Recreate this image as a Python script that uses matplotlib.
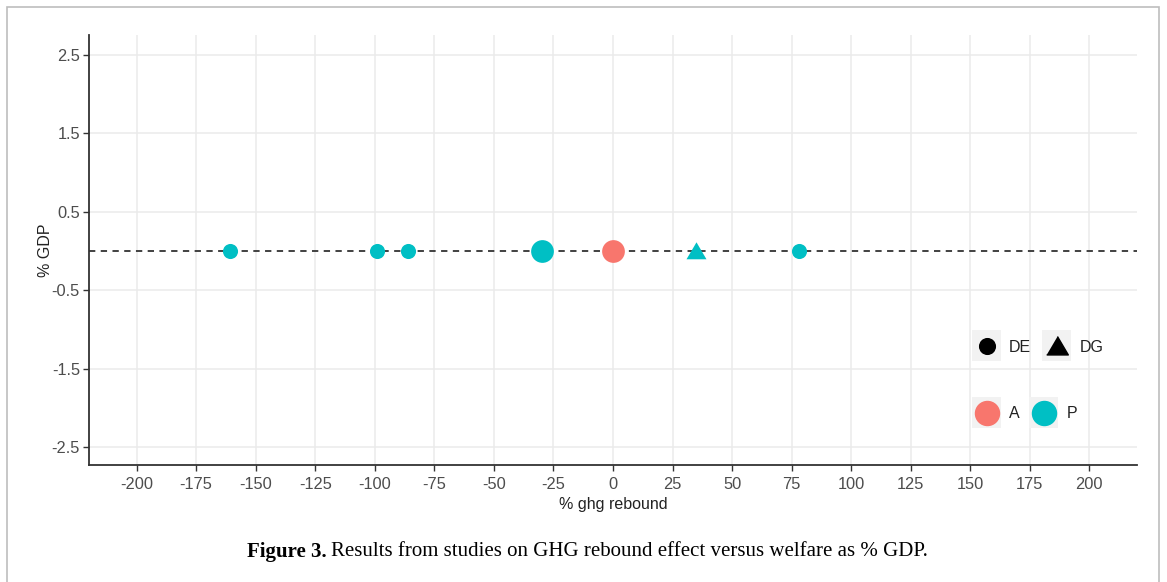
import matplotlib.pyplot as plt
from matplotlib.patches import Rectangle

plt.rcParams['font.family'] = ['Liberation Sans', 'DejaVu Sans']
plt.rcParams['axes.unicode_minus'] = False

# study results
rebound = [-161, -99, -86, -30, 0, 35, 78]
gdp = [0, 0, 0, 0, 0, 0, 0]
kind = ['DE', 'DE', 'DE', 'DE', 'DE', 'DG', 'DE']
group = ['P', 'P', 'P', 'P', 'A', 'P', 'P']
nstud = [1, 1, 1, 2, 2, 1, 1]

xticks = list(range(-200, 201, 25))
yticks = [2.5, 1.5, 0.5, -0.5, -1.5, -2.5]

# ggplot-like equilateral triangle (wider than tall)
tri = [(-1, -0.78), (1, -0.78), (0, 0.92)]
colors = {'A': '#F8766D', 'P': '#00BFC4'}
shapes = {'DE': 'o', 'DG': tri}
sizes = {1: 118, 2: 268}

W, H = 1167, 582
fig = plt.figure(figsize=(W / 100, H / 100), dpi=100)

def fx(px):
    return px / W

def fy(py):
    return 1 - py / H

# outer frame
fig.patches.append(Rectangle((fx(7), fy(590)), fx(1159) - fx(7), fy(7) - fy(590),
                             transform=fig.transFigure, fill=False,
                             edgecolor='#BDBDBD', linewidth=1.2))

ax = fig.add_axes([fx(89), fy(465), fx(1137) - fx(89), fy(35) - fy(465)])
ax.set_xlim(-220, 220)
ax.set_ylim(-2.73, 2.755)
ax.set_xticks(xticks)
ax.set_xticklabels([str(t) for t in xticks])
ax.set_yticks(yticks)
ax.set_yticklabels([str(t) for t in yticks])
ax.grid(True, color='#EBEBEB', linewidth=1.1)
ax.set_axisbelow(True)
for s in ['top', 'right']:
    ax.spines[s].set_visible(False)
for s in ['left', 'bottom']:
    ax.spines[s].set_color('#333333')
    ax.spines[s].set_linewidth(1.3)
ax.tick_params(colors='#333333', labelcolor='#4D4D4D', labelsize=11.8,
               length=4, width=1)
ax.tick_params(axis='x', pad=4.5)
ax.tick_params(axis='y', pad=2.5)

ax.axhline(0, color='#333333', linestyle=(0, (3.5, 3)), linewidth=1.3, zorder=2)

for x, y, k, g, n in zip(rebound, gdp, kind, group, nstud):
    s = sizes[n] if k == 'DE' else 207
    ax.scatter(x, y, s=s, marker=shapes[k], color=colors[g], linewidths=0, zorder=3)

ax.set_xlabel('% ghg rebound', fontsize=11.5, color='#222222', labelpad=4)
ax.set_ylabel('% GDP', fontsize=11.5, color='#222222', labelpad=-1.3)

# legends, drawn by hand with ggplot-style grey key boxes
def key(px, py, marker, color, ms):
    fig.patches.append(Rectangle((fx(px), fy(py + 31)), fx(29), 31 / H,
                                 transform=fig.transFigure, facecolor='#F2F2F2',
                                 edgecolor='none'))
    fig.add_artist(plt.Line2D([fx(px + 14.5)], [fy(py + 15.5)], marker=marker,
                              markersize=ms, color=color, linestyle='none',
                              transform=fig.transFigure))

key(972, 330, 'o', 'black', 11.3)
fig.text(fx(1009), fy(347), 'DE', fontsize=11.5, color='#222222', va='center')
key(1042, 330, tri, 'black', 15.6)
fig.text(fx(1080), fy(347), 'DG', fontsize=11.5, color='#222222', va='center')
key(972, 397, 'o', colors['A'], 17.3)
fig.text(fx(1009), fy(414), 'A', fontsize=11.5, color='#222222', va='center')
key(1029, 397, 'o', colors['P'], 17.3)
fig.text(fx(1067), fy(414), 'P', fontsize=11.5, color='#222222', va='center')

cap_bold = fig.text(fx(247), fy(552), 'Figure 3.', fontfamily='Liberation Serif',
                    fontweight='bold', fontsize=15, va='center')
fig.canvas.draw()
bb = cap_bold.get_window_extent()
fig.text((bb.x1 + 4) / W, fy(552), 'Results from studies on GHG rebound effect versus welfare as % GDP.',
         fontfamily='Liberation Serif', fontsize=15, va='center')

fig.savefig('out.png', dpi=100)
